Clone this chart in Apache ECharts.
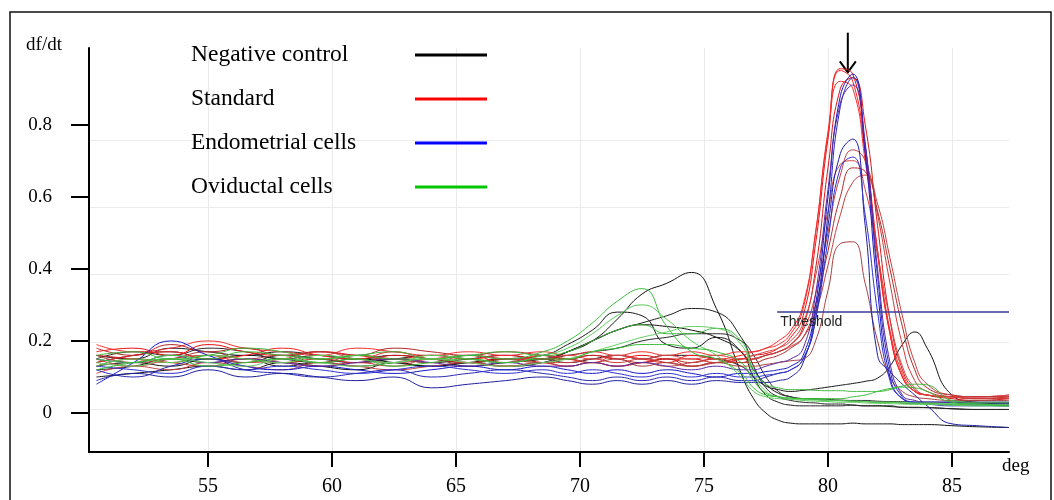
<!DOCTYPE html>
<html>
<head>
<meta charset="utf-8">
<title>Melting curves</title>
<script src="https://cdn.jsdelivr.net/npm/echarts@6/dist/echarts.min.js"></script>
<style>
  html, body { margin: 0; padding: 0; background: #fff; }
  #chart { width: 1054px; height: 500px; }
</style>
</head>
<body>
<div id="chart"></div>
<script>
// temperatures (deg) shared by every curve
const temps = [50.5, 52, 53.5, 55, 56.5, 58, 59.5, 61, 62.5, 64, 65.5, 67, 68.5,
  69.5, 70.5, 71.5, 72.5, 73.5, 74.5, 75.5, 76.5,
  77, 77.5, 78, 78.5, 79, 79.5, 80, 80.5, 81, 81.5, 82, 82.5, 83, 83.5, 84,
  85, 86, 87.3]

// df/dt, one row per curve
const negativeControl = [
  [0.14,0.16,0.17,0.15,0.16,0.15,0.14,0.15,0.14,0.13,0.14,0.15,0.15, 0.17,0.2,0.26,0.33,0.36,0.39,0.29,0.11, 0.04,0.0,-0.02,-0.028,-0.03,-0.03,-0.03,-0.03,-0.028,-0.03,-0.03,-0.03,-0.032,-0.032,-0.032, -0.035,-0.038,-0.04],
  [0.16,0.15,0.18,0.17,0.16,0.17,0.16,0.15,0.16,0.15,0.14,0.15,0.16, 0.19,0.23,0.28,0.27,0.19,0.18,0.21,0.17, 0.1,0.05,0.03,0.022,0.02,0.02,0.02,0.02,0.022,0.02,0.02,0.02,0.016,0.016,0.015, 0.012,0.01,0.01],
  [0.12,0.13,0.15,0.14,0.15,0.13,0.14,0.13,0.14,0.15,0.13,0.14,0.15, 0.17,0.2,0.23,0.25,0.27,0.29,0.28,0.21, 0.13,0.07,0.045,0.035,0.03,0.028,0.025,0.025,0.022,0.02,0.02,0.018,0.016,0.015,0.015, 0.012,0.01,0.01],
  [0.1,0.11,0.12,0.13,0.12,0.14,0.13,0.12,0.14,0.13,0.14,0.13,0.14, 0.17,0.2,0.23,0.245,0.24,0.23,0.21,0.17, 0.12,0.08,0.055,0.045,0.04,0.038,0.035,0.035,0.033,0.032,0.03,0.03,0.028,0.027,0.026, 0.024,0.022,0.02],
  [0.15,0.17,0.16,0.18,0.17,0.15,0.16,0.15,0.15,0.14,0.15,0.16,0.15, 0.16,0.17,0.18,0.2,0.21,0.22,0.22,0.2, 0.16,0.1,0.06,0.045,0.04,0.04,0.038,0.036,0.035,0.035,0.033,0.032,0.032,0.03,0.03, 0.028,0.026,0.025],
  [0.13,0.14,0.13,0.15,0.14,0.16,0.15,0.14,0.15,0.16,0.15,0.14,0.15, 0.14,0.15,0.16,0.15,0.16,0.16,0.15,0.13, 0.1,0.075,0.065,0.06,0.063,0.067,0.072,0.077,0.082,0.088,0.097,0.13,0.19,0.225,0.18, 0.05,0.03,0.025]
]
const standard = [
  [0.17,0.18,0.16,0.19,0.17,0.16,0.17,0.16,0.15,0.16,0.15,0.16,0.15, 0.15,0.16,0.15,0.16,0.15,0.15,0.14,0.15, 0.16,0.165,0.18,0.21,0.27,0.47,0.76,0.955,0.94,0.74,0.45,0.22,0.1,0.06,0.05, 0.045,0.04,0.045],
  [0.14,0.16,0.17,0.15,0.16,0.18,0.16,0.15,0.17,0.15,0.16,0.14,0.16, 0.15,0.14,0.16,0.15,0.14,0.16,0.15,0.16, 0.17,0.18,0.2,0.23,0.3,0.5,0.78,0.95,0.92,0.72,0.44,0.22,0.1,0.06,0.05, 0.045,0.045,0.05],
  [0.16,0.15,0.14,0.16,0.15,0.14,0.15,0.14,0.16,0.15,0.14,0.15,0.14, 0.13,0.14,0.13,0.14,0.15,0.13,0.14,0.15, 0.15,0.16,0.17,0.19,0.24,0.4,0.68,0.9,0.93,0.8,0.52,0.26,0.12,0.065,0.05, 0.04,0.035,0.04],
  [0.19,0.17,0.18,0.2,0.18,0.17,0.16,0.18,0.17,0.16,0.17,0.16,0.17, 0.16,0.17,0.16,0.17,0.16,0.17,0.16,0.17, 0.17,0.18,0.19,0.22,0.29,0.5,0.77,0.92,0.9,0.7,0.45,0.23,0.11,0.06,0.05, 0.045,0.04,0.04],
  [0.13,0.15,0.14,0.13,0.15,0.14,0.13,0.14,0.13,0.15,0.14,0.13,0.14, 0.14,0.15,0.14,0.15,0.14,0.13,0.14,0.14, 0.15,0.16,0.17,0.19,0.23,0.33,0.5,0.66,0.73,0.7,0.55,0.36,0.19,0.09,0.06, 0.045,0.04,0.04],
  [0.15,0.13,0.15,0.16,0.14,0.15,0.17,0.15,0.14,0.15,0.16,0.15,0.15, 0.16,0.15,0.16,0.15,0.16,0.15,0.16,0.15, 0.16,0.17,0.18,0.2,0.25,0.38,0.56,0.69,0.7,0.62,0.44,0.26,0.13,0.07,0.05, 0.045,0.045,0.05],
  [0.18,0.16,0.19,0.17,0.18,0.16,0.17,0.16,0.18,0.17,0.16,0.17,0.16, 0.15,0.16,0.15,0.14,0.15,0.14,0.15,0.14, 0.14,0.15,0.16,0.18,0.21,0.3,0.45,0.6,0.68,0.67,0.56,0.4,0.24,0.12,0.07, 0.05,0.045,0.045],
  [0.11,0.13,0.12,0.14,0.13,0.12,0.14,0.13,0.12,0.13,0.14,0.13,0.14, 0.13,0.14,0.13,0.14,0.13,0.14,0.15,0.14, 0.15,0.16,0.17,0.185,0.21,0.28,0.41,0.55,0.64,0.66,0.58,0.43,0.27,0.14,0.08, 0.05,0.045,0.045],
  [0.16,0.14,0.15,0.17,0.15,0.16,0.14,0.16,0.15,0.14,0.16,0.15,0.14, 0.15,0.14,0.15,0.13,0.14,0.13,0.14,0.13, 0.13,0.135,0.14,0.145,0.15,0.2,0.34,0.47,0.475,0.36,0.2,0.1,0.06,0.045,0.04, 0.035,0.035,0.035]
]
const endometrial = [
  [0.08,0.14,0.2,0.16,0.13,0.12,0.13,0.12,0.11,0.12,0.13,0.12,0.13, 0.12,0.11,0.12,0.11,0.12,0.11,0.1,0.11, 0.11,0.115,0.12,0.13,0.16,0.3,0.6,0.88,0.94,0.72,0.34,0.1,0.04,0.03,0.03, 0.03,0.025,0.025],
  [0.12,0.1,0.13,0.15,0.12,0.11,0.1,0.11,0.12,0.1,0.11,0.12,0.11, 0.1,0.09,0.1,0.09,0.1,0.09,0.1,0.09, 0.09,0.1,0.11,0.12,0.15,0.26,0.55,0.85,0.93,0.75,0.38,0.12,0.045,0.03,0.03, 0.03,0.03,0.03],
  [0.15,0.14,0.16,0.14,0.15,0.14,0.13,0.14,0.15,0.14,0.13,0.14,0.13, 0.13,0.14,0.13,0.14,0.13,0.12,0.13,0.12, 0.12,0.13,0.14,0.15,0.18,0.33,0.62,0.86,0.91,0.74,0.4,0.14,0.05,0.035,0.03, 0.03,0.03,0.03],
  [0.09,0.11,0.1,0.12,0.1,0.11,0.1,0.09,0.1,0.07,0.08,0.09,0.1, 0.09,0.08,0.09,0.08,0.09,0.08,0.09,0.085, 0.085,0.085,0.09,0.1,0.14,0.28,0.52,0.72,0.76,0.52,0.16,0.115,0.08,0.05,0.02, -0.03,-0.035,-0.04],
  [0.13,0.12,0.11,0.13,0.12,0.13,0.12,0.11,0.12,0.13,0.12,0.11,0.12, 0.11,0.12,0.11,0.1,0.11,0.1,0.11,0.1, 0.1,0.105,0.11,0.12,0.15,0.26,0.48,0.68,0.71,0.55,0.28,0.09,0.04,0.03,0.025, 0.02,0.02,0.02]
]
const oviductal = [
  [0.15,0.14,0.16,0.15,0.17,0.16,0.15,0.16,0.15,0.15,0.16,0.15,0.17, 0.2,0.25,0.31,0.345,0.24,0.17,0.15,0.11, 0.07,0.05,0.045,0.04,0.04,0.038,0.036,0.035,0.033,0.032,0.03,0.03,0.028,0.027,0.026, 0.024,0.022,0.02],
  [0.13,0.15,0.14,0.16,0.15,0.14,0.16,0.15,0.14,0.16,0.15,0.14,0.16, 0.18,0.22,0.27,0.3,0.26,0.2,0.16,0.1, 0.06,0.045,0.04,0.038,0.035,0.033,0.032,0.03,0.03,0.028,0.027,0.026,0.025,0.024,0.024, 0.022,0.02,0.02],
  [0.16,0.17,0.15,0.16,0.18,0.17,0.15,0.16,0.17,0.15,0.16,0.17,0.16, 0.17,0.2,0.23,0.245,0.22,0.22,0.235,0.2, 0.12,0.08,0.07,0.065,0.065,0.063,0.062,0.062,0.06,0.06,0.06,0.065,0.075,0.08,0.078, 0.035,0.03,0.03],
  [0.14,0.13,0.15,0.14,0.13,0.15,0.14,0.13,0.14,0.15,0.14,0.13,0.14, 0.15,0.17,0.19,0.21,0.225,0.24,0.235,0.19, 0.11,0.06,0.045,0.04,0.038,0.036,0.035,0.034,0.033,0.032,0.03,0.03,0.03,0.028,0.028, 0.026,0.025,0.024],
  [0.12,0.14,0.15,0.13,0.14,0.15,0.14,0.15,0.13,0.14,0.15,0.14,0.15, 0.15,0.17,0.18,0.19,0.19,0.18,0.17,0.14, 0.09,0.055,0.045,0.042,0.04,0.04,0.04,0.04,0.045,0.05,0.06,0.068,0.072,0.07,0.06, 0.03,0.025,0.02]
]

const groupNames = ['Negative control', 'Standard', 'Endometrial cells', 'Oviductal cells']
const xTicks = [55, 60, 65, 70, 75, 80, 85]
const yTicks = [0, 0.2, 0.4, 0.6, 0.8]
const gridTicks = [0, 1, 2, 3, 4]   // faint lines of the instrument screenshot
const thresholdValue = 0.28
const thresholdFrom = 77.95
const arrowAt = [80.8, 0.945]
const arrowTail = 1.055

// styles
const serif = "'Liberation Serif', 'Times New Roman', serif"
const legendColors = ['#000000', '#ff0000', '#0000ff', '#00c800']
const curveColors = [
  ['#111', '#1a1a1a', '#222', '#111', '#2a2a2a', '#151515'],
  ['#e81010', '#ff2020', '#d41818', '#f03030', '#c83a3a', '#d04444', '#b42828', '#c44040', '#a84040'],
  ['#1818c8', '#2a2ab4', '#5a2aa4', '#2020a0', '#3030d0'],
  ['#3cc03c', '#58cc58', '#40b840', '#64d064', '#36bc36']
]

const groups = [negativeControl, standard, endometrial, oviductal]

const chart = echarts.init(document.getElementById('chart'))

const series = []
groups.forEach((rows, g) => {
  rows.forEach((vals, i) => {
    const c = curveColors[g][i % curveColors[g].length]
    series.push({
      name: groupNames[g],
      type: 'line',
      data: temps.map((t, k) => [t, vals[k]]),
      showSymbol: false,
      symbol: 'none',
      smooth: 0.5,
      silent: true,
      lineStyle: { width: 1, color: c },
      itemStyle: { color: c }
    })
  })
})

series.push({
  name: 'threshold',
  type: 'line',
  data: [],
  silent: true,
  markLine: {
    silent: true,
    symbol: 'none',
    animation: false,
    lineStyle: { color: '#3a3a98', width: 1.5, type: 'solid' },
    label: {
      show: true,
      position: 'insideStartBottom',
      formatter: 'Threshold',
      color: '#222',
      fontFamily: "'Liberation Sans', Arial, sans-serif",
      fontSize: 14,
      distance: 3
    },
    data: [[{ coord: [thresholdFrom, thresholdValue] }, { coord: [87.3, thresholdValue] }]]
  }
})

const border = {
  type: 'rect',
  shape: { x: 10, y: 12, width: 1041, height: 520 },
  style: { fill: 'none', stroke: '#111', lineWidth: 1.5 },
  silent: true
}

chart.setOption({
  animation: false,
  backgroundColor: '#fff',
  grid: { left: 89, right: 45, top: 48, bottom: 48, containLabel: false, outerBoundsMode: 'none' },
  legend: {
    orient: 'vertical',
    left: 191,
    top: 43,
    padding: 0,
    itemGap: 20,
    align: 'right',
    itemWidth: 72,
    itemHeight: 3,
    icon: 'rect',
    selectedMode: false,
    data: groupNames.map((n, i) => ({ name: n, itemStyle: { color: legendColors[i] } })),
    formatter: n => '{t|' + n + '}',
    textStyle: {
      rich: { t: { width: 219, align: 'left', fontFamily: serif, fontSize: 23.5, lineHeight: 26, color: '#000' } }
    }
  },
  xAxis: {
    type: 'value',
    min: 50.2,
    max: 87.3,
    name: 'deg',
    nameLocation: 'end',
    nameGap: -7,
    nameTextStyle: { fontFamily: serif, fontSize: 19, color: '#000', align: 'left', verticalAlign: 'top', padding: [5, 0, 0, 0] },
    axisLine: { onZero: false, lineStyle: { color: '#000', width: 2 } },
    axisTick: { show: true, length: 15, customValues: xTicks, lineStyle: { color: '#000', width: 2 } },
    axisLabel: { customValues: xTicks, margin: 25, color: '#000', fontFamily: serif, fontSize: 20 },
    splitLine: { show: true, lineStyle: { color: '#ebebeb', width: 1 } }
  },
  yAxis: [{
    type: 'value',
    min: -0.108,
    max: 1.0125,
    name: 'df/dt',
    nameLocation: 'end',
    nameGap: 3,
    nameTextStyle: { fontFamily: serif, fontSize: 19, color: '#000', align: 'right', verticalAlign: 'middle', padding: [0, 27, 0, 0] },
    axisLine: { show: true, onZero: false, lineStyle: { color: '#000', width: 2 } },
    axisTick: { show: true, length: 18, customValues: yTicks, lineStyle: { color: '#000', width: 2 } },
    axisLabel: { customValues: yTicks, margin: 37, color: '#000', fontFamily: serif, fontSize: 19 },
    splitLine: { show: false }
  }, {
    type: 'value',
    min: -0.639,
    max: 5.368,
    position: 'left',
    axisLine: { show: false },
    axisTick: { show: false, customValues: gridTicks },
    axisLabel: { show: false },
    splitLine: { show: true, lineStyle: { color: '#ebebeb', width: 1 } }
  }],
  graphic: [border],
  series: series
})

// arrow pointing at the main peak
const tip = chart.convertToPixel({ xAxisIndex: 0, yAxisIndex: 0 }, arrowAt)
const tail = chart.convertToPixel({ xAxisIndex: 0, yAxisIndex: 0 }, [arrowAt[0], arrowTail])
chart.setOption({
  graphic: [border, {
    type: 'group',
    silent: true,
    children: [
      { type: 'line', shape: { x1: tail[0], y1: tail[1], x2: tip[0], y2: tip[1] }, style: { stroke: '#000', lineWidth: 2 } },
      { type: 'polyline', shape: { points: [[tip[0] - 8, tip[1] - 11], [tip[0], tip[1]], [tip[0] + 8, tip[1] - 11]] }, style: { stroke: '#000', lineWidth: 2, fill: 'none' } }
    ]
  }]
})
</script>
</body>
</html>
